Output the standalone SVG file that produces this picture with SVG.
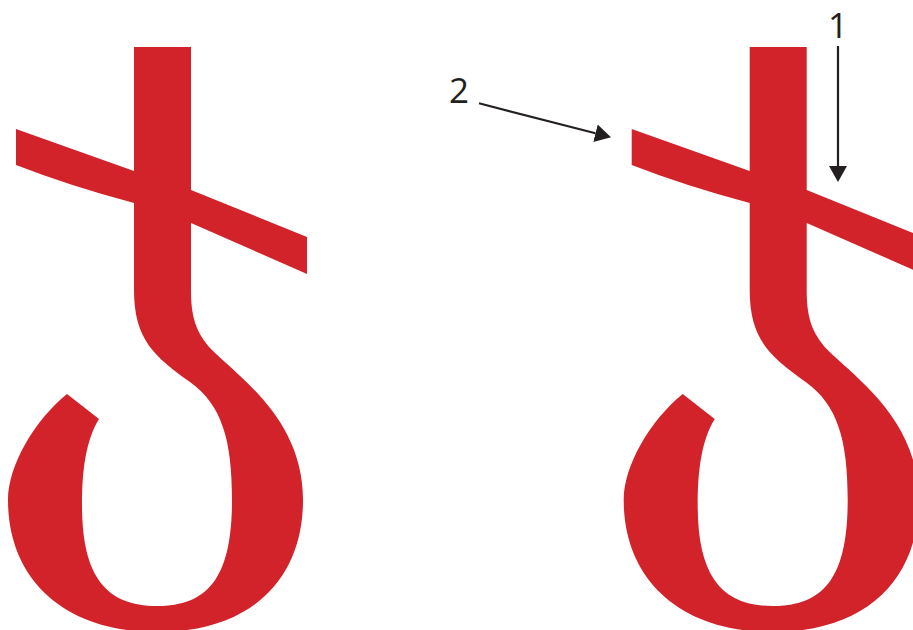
<svg xmlns="http://www.w3.org/2000/svg" xmlns:xlink="http://www.w3.org/1999/xlink" width="913" height="630" viewBox="0 0 913 630">
<style>
.glyph{fill:#d2232a}
.lbl{font-family:"Open Sans","Noto Sans","Liberation Sans",sans-serif;font-size:35px;fill:#231f20}
.arr{stroke:#231f20;stroke-width:2.2;fill:none}
</style>
<defs>
<marker id="ah" viewBox="0 0 16 18" refX="0" refY="9" markerWidth="16" markerHeight="18" markerUnits="userSpaceOnUse" orient="auto">
<path d="M0,0 L16,9 L0,18 Z" fill="#231f20"/>
</marker>
<g id="sign">
<path class="glyph" d="M134,47 H191 V290 C191,315 195,332 212,350 C240,378 303,420 303,500 C303,580 250,632 157,632 C65,632 8,580 8,500 C8,465 35,420 67,394 L99,419 C86,440 82,470 82,505 C82,575 105,606 157,606 C210,606 232,575 232,500 C232,440 222,405 190,382 C155,357 134,340 134,290 Z"/>
<path class="glyph" d="M16,129 L134,171 L191,190 L307,237 V274 L191,223 L134,203 Q70,186 16,165 Z"/>
</g>
</defs>
<g id="left-sign"><use xlink:href="#sign"/></g>
<g id="right-sign"><use xlink:href="#sign" transform="translate(615.7,0)"/></g>
<g id="connectors">
<line class="arr" x1="838" y1="46" x2="838" y2="166" marker-end="url(#ah)"/>
<line class="arr" x1="479" y1="103.3" x2="595.5" y2="133.3" marker-end="url(#ah)"/>
</g>
<g id="label-1"><text class="lbl" x="838" y="38" text-anchor="middle">1</text></g>
<g id="label-2"><text class="lbl" x="459" y="102.5" text-anchor="middle">2</text></g>
</svg>
